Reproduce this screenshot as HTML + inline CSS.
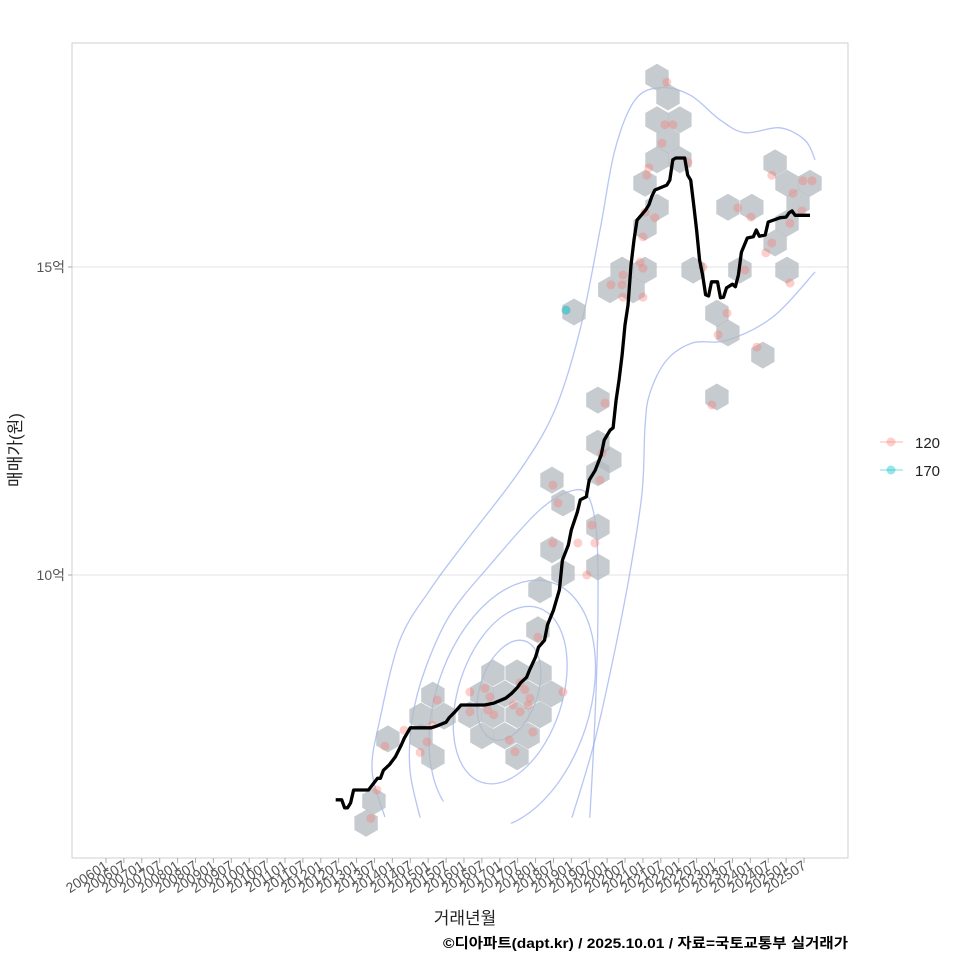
<!DOCTYPE html>
<html><head><meta charset="utf-8"><style>
html,body{margin:0;padding:0;background:#fff;}
svg{display:block;font-family:"Liberation Sans","Noto Sans CJK KR",sans-serif;}
</style></head><body>
<svg id="chart" width="960" height="960" viewBox="0 0 960 960">
<rect x="0" y="0" width="960" height="960" fill="#fff"/>
<g id="grid"></g>
<g id="contours"></g>
<g id="hexes"></g>
<g id="points"></g>
<g id="line"></g>
<rect x="72" y="43" width="776" height="815" fill="none" stroke="#cfcfcf" stroke-width="1"/>
<g id="xaxis"></g>
<g id="yaxis"></g>
<text x="465" y="924" font-size="17" text-anchor="middle" fill="#222">거래년월</text>
<text transform="translate(21,450) rotate(-90)" font-size="17" text-anchor="middle" fill="#222">매매가(원)</text>
<text x="443" y="948" font-size="14" font-weight="bold" textLength="405" lengthAdjust="spacingAndGlyphs" fill="#000">©디아파트(dapt.kr) / 2025.10.01 / 자료=국토교통부 실거래가</text>
<g>
  <g>
    <line x1="880" y1="442" x2="903" y2="442" stroke="#F8766D" stroke-opacity="0.35" stroke-width="1.5"/>
    <circle cx="891" cy="442" r="4.5" fill="#F8766D" fill-opacity="0.35"/>
    <text x="915" y="448" font-size="15" fill="#222">120</text>
  </g>
  <g>
    <line x1="880" y1="470" x2="903" y2="470" stroke="#00BFC4" stroke-opacity="0.35" stroke-width="1.5"/>
    <circle cx="891" cy="470" r="4.5" fill="#00BFC4" fill-opacity="0.4"/>
    <text x="915" y="476" font-size="15" fill="#222">170</text>
  </g>
</g>
</svg>
<script>
// ---- data (month index from 2006-01, price in 억) ----
const lineMonths=[77,79,80,81,82,83,88,91,92,93,95,97,99,100,102,109,111,114,115,117,119,127,130,134,136,138,139,141,142,144,145,147,148,150,152,153,155,156,158,159,161,162,164,166,167,169,170,171,172,173,174,175,176,177,178,181,182,183,184,188,189,190,191,194,195,196,197,198,199,200,201,202,203,205,206,207,208,210,211,212,213,215,217,218,219,221,222,226,228,229,230,231,236];
const linePrices=[6.35,6.35,6.22,6.22,6.30,6.51,6.51,6.70,6.70,6.83,6.92,7.05,7.24,7.35,7.52,7.52,7.55,7.61,7.68,7.78,7.89,7.89,7.92,8.00,8.08,8.18,8.25,8.34,8.46,8.67,8.83,8.94,9.19,9.43,9.76,10.24,10.49,10.73,11.02,11.22,11.27,11.54,11.70,11.95,12.19,12.35,12.39,12.84,13.17,13.57,14.06,14.38,15.03,15.44,15.76,15.93,16.01,16.15,16.25,16.33,16.41,16.74,16.77,16.77,16.49,16.41,16.01,15.60,15.11,14.87,14.55,14.53,14.76,14.76,14.50,14.51,14.66,14.72,14.68,14.87,15.24,15.47,15.49,15.60,15.50,15.52,15.73,15.80,15.81,15.88,15.91,15.84,15.84];
const hexMonths=[87.2,89.8,94.5,109.6,105.6,113.3,105.6,109.6,129.7,137.8,145.5,126.0,133.7,141.5,149.2,122.0,129.7,137.8,145.5,126.0,133.7,141.5,137.8,144.8,145.5,149.5,153.2,149.5,153.2,164.9,164.9,164.9,164.9,168.9,164.9,173.0,180.7,168.9,176.7,156.9,184.7,188.4,184.7,192.4,188.4,184.7,192.4,180.7,184.7,180.7,196.8,204.8,208.5,220.2,204.8,212.5,208.5,216.5,224.3,228.3,236.0,232.0,228.3,224.3,228.3];
const hexPrices=[5.97,6.33,7.34,8.05,7.71,7.71,7.37,7.05,8.41,8.41,8.41,8.07,8.07,8.07,8.07,7.73,7.73,7.73,7.73,7.39,7.39,7.39,7.05,9.11,9.76,10.41,10.03,11.54,11.17,10.78,10.13,12.84,12.14,11.87,11.66,14.95,14.95,14.63,14.63,14.27,18.08,17.76,17.39,17.39,17.06,16.74,16.74,16.36,15.97,15.65,14.95,14.25,13.93,13.57,12.89,14.95,15.97,15.97,16.69,16.36,16.36,16.04,15.71,15.39,14.95];
const ptMonths=[88.8,90.8,93.5,99.9,107.6,105.3,111,109.3,122,127,128.7,128,130,122,135.2,136.5,138.8,140.4,142.1,138.8,141.5,143.1,137.1,153.2,144.8,149.8,151.5,166.3,165.6,167.3,158.2,149.8,163.9,161.2,162.9,188,187.4,190,186.4,195.1,182,181.3,180.7,184,180,179,180,173.3,169.3,173,173.3,180,200.1,208.2,205.2,218.2,203.1,211.8,216.2,214.2,223.2,230.3,233.6,236.7,233.3,229.3,223.2,221.2,229.3];
const ptPrices=[6.05,6.51,7.22,7.48,7.29,7.12,7.97,7.56,8.10,8.16,8.02,7.81,7.73,7.78,7.32,7.89,8.25,8.14,8.00,7.78,7.89,7.45,7.13,8.10,8.99,11.46,11.17,11.98,11.54,12.79,10.52,10.52,10.52,10.0,10.81,18.0,17.31,17.31,17.01,16.70,16.61,16.49,15.89,15.80,15.49,15.08,14.98,14.87,14.71,14.71,14.51,14.51,15.0,14.25,13.90,13.70,12.76,15.96,15.81,14.95,16.49,16.20,16.40,16.40,15.91,15.71,15.39,15.23,14.74];
const pt170Months=[154.2];
const pt170Prices=[14.30];
const ellCenterMonths=[135.1,135.5,136.2];
const ellCenterPrices=[8.13,8.05,7.9];
const ellRadMonths=[9.7,17.4,25.8];
const ellRadPrices=[0.84,1.49,2.08];
const outer2Months=[105.3,101.9,102.6,106.9,115.3,128.7,145.5,157.2,162.2,164.6,164.9,163.9,162.2];
const outer2Prices=[6.06,6.83,7.65,8.46,9.35,10.16,11.06,11.38,11.22,10.57,9.27,7.65,6.06];
const outer1Months=[93.5,89.2,91.8,98.5,108.6,121.0,138.8,150.5,158.9,165.6,170.6,177.3,185.7,195.8,205.8,214.2,225.9,234.3,237.7];
const outer1Prices=[6.07,6.83,7.65,8.94,9.76,10.57,11.70,12.68,13.98,15.60,16.90,17.71,17.91,17.79,17.39,17.18,17.26,17.06,16.74];
const outer1bMonths=[237.7,223.6,208.2,196.8,188.0,182.3,180.7,179.7,175.6,170.6,163.9,156.2];
const outer1bPrices=[14.92,14.19,13.81,13.77,13.49,12.95,12.40,11.33,10.03,8.78,7.32,6.06];
const yTickValues=[10,15];
const yTickLabels=["10억","15억"];
const xTickLabels=[];
for(let y=2006;y<=2025;y++){xTickLabels.push(y+"01");xTickLabels.push(y+"07");}

// ---- scales ----
const X0=106, XS=2.983, Y10=575, YS=61.6;
function sx(m){return X0+m*XS;}
function sy(p){return Y10-(p-10)*YS;}
const NS="http://www.w3.org/2000/svg";
function mk(tag,attrs,parent){const e=document.createElementNS(NS,tag);for(const k in attrs)e.setAttribute(k,attrs[k]);parent.appendChild(e);return e;}

const grid=document.getElementById('grid'), yaxis=document.getElementById('yaxis');
yTickValues.forEach((v,i)=>{
  const g=mk('line',{x1:72,x2:848,y1:sy(v),y2:sy(v),stroke:'#e3e3e3','stroke-width':1},grid);
  
  
  const t=mk('line',{x1:68,x2:72,y1:sy(v),y2:sy(v),stroke:'#aaa'},yaxis);
  
  
  const l=mk('text',{x:65,y:sy(v)+5,'font-size':14,'text-anchor':'end',fill:'#555'},yaxis);
  l.textContent=yTickLabels[i];
  
  
});
const xaxis=document.getElementById('xaxis');
xTickLabels.forEach((lab,i)=>{
  const x=sx(i*6);
  const t=mk('line',{x1:x,x2:x,y1:858,y2:863,stroke:'#aaa'},xaxis);
  
  
  const l=mk('text',{transform:`translate(${x+3},${868}) rotate(-33)`,'font-size':14,'text-anchor':'end',fill:'#555'},xaxis);
  l.textContent=lab;
  
  
});

const cg=document.getElementById('contours');
const cStyle={fill:'none',stroke:'#8fa6ee','stroke-opacity':0.65,'stroke-width':1.3};
function pathFrom(ms,ps){return ms.map((m,i)=>(i?'L':'M')+sx(m).toFixed(1)+','+sy(ps[i]).toFixed(1)).join('');}
function smoothPath(ms,ps){
  const P=ms.map((m,i)=>[sx(m),sy(ps[i])]);
  let d='M'+P[0][0]+','+P[0][1];
  for(let i=0;i<P.length-1;i++){
    const p0=P[Math.max(0,i-1)],p1=P[i],p2=P[i+1],p3=P[Math.min(P.length-1,i+2)];
    const c1=[p1[0]+(p2[0]-p0[0])/6,p1[1]+(p2[1]-p0[1])/6],c2=[p2[0]-(p3[0]-p1[0])/6,p2[1]-(p3[1]-p1[1])/6];
    d+=`C${c1[0].toFixed(1)},${c1[1].toFixed(1)} ${c2[0].toFixed(1)},${c2[1].toFixed(1)} ${p2[0].toFixed(1)},${p2[1].toFixed(1)}`;
  }
  return d;
}
mk('clipPath',{id:'plotclip'},cg);
const cr=document.getElementById('plotclip');
mk('rect',{x:72,y:43,width:776,height:775},cr);
ellCenterMonths.forEach((cm,i)=>{
  const cx=sx(cm),cy=sy(ellCenterPrices[i]);
  const e=mk('ellipse',Object.assign({cx:cx,cy:cy,rx:ellRadMonths[i]*XS,ry:ellRadPrices[i]*YS,transform:`rotate(18 ${cx} ${cy})`,'clip-path':'url(#plotclip)'},cStyle),cg);
  
  
});
[[outer2Months,outer2Prices],[outer1Months,outer1Prices],[outer1bMonths,outer1bPrices]].forEach(([ms,ps])=>{
  const p=mk('path',Object.assign({d:smoothPath(ms,ps)},cStyle),cg);
  
  
});

const hg=document.getElementById('hexes');
const R=13.5;
hexMonths.forEach((m,i)=>{
  const cx=sx(m),cy=sy(hexPrices[i]);
  let pts=[];
  for(let k=0;k<6;k++){const a=Math.PI/180*(60*k-90);pts.push((cx+R*Math.cos(a)).toFixed(1)+','+(cy+R*Math.sin(a)).toFixed(1));}
  const h=mk('polygon',{points:pts.join(' '),fill:'#b3b9bf','fill-opacity':0.75},hg);
  
  
});

const pg=document.getElementById('points');
ptMonths.forEach((m,i)=>{
  const c=mk('circle',{cx:sx(m),cy:sy(ptPrices[i]),r:4.5,fill:'#F8766D','fill-opacity':0.35},pg);
  
  
});
pt170Months.forEach((m,i)=>{
  const c=mk('circle',{cx:sx(m),cy:sy(pt170Prices[i]),r:4.5,fill:'#00BFC4','fill-opacity':0.5},pg);
  
  
});

const lg=document.getElementById('line');
const ln=mk('path',{d:pathFrom(lineMonths,linePrices),fill:'none',stroke:'#000','stroke-width':3.3,'stroke-linejoin':'round'},lg);


</script>
</body></html>
